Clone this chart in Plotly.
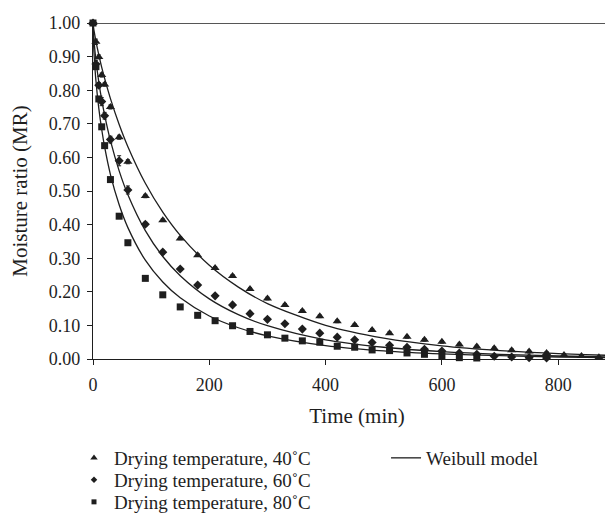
import plotly.graph_objects as go

t40 = [0, 5, 10, 15, 20, 30, 45, 60, 90, 120, 150, 180, 210, 240, 270, 300, 330, 360,
       390, 420, 450, 480, 510, 540, 570, 600, 630, 660, 690, 720, 750, 780, 810, 840, 870]
mr40 = [1.00, 0.944, 0.899, 0.845, 0.817, 0.750, 0.660, 0.587, 0.485, 0.413, 0.359, 0.309,
        0.271, 0.247, 0.208, 0.180, 0.161, 0.143, 0.127, 0.112, 0.101, 0.086, 0.077, 0.066,
        0.057, 0.051, 0.043, 0.037, 0.032, 0.026, 0.022, 0.018, 0.012, 0.009, 0.005]
err40 = [0, 0.008, 0.006, 0.006, 0.005, 0.006, 0.006, 0.006, 0.005, 0.004, 0.004, 0.004,
         0.004, 0.004, 0.004, 0.004, 0.004, 0.004, 0.004, 0.004, 0.004, 0.004, 0.004, 0.004,
         0.004, 0.004, 0.004, 0.004, 0.004, 0.004, 0.004, 0.004, 0.003, 0.003, 0.003]

t60 = [0, 5, 10, 15, 20, 30, 45, 60, 90, 120, 150, 180, 210, 240, 270, 300, 330, 360,
       390, 420, 450, 480, 510, 540, 570, 600, 630, 660, 690, 720, 750, 780]
mr60 = [1.00, 0.878, 0.815, 0.766, 0.724, 0.653, 0.590, 0.503, 0.401, 0.318, 0.268, 0.220,
        0.188, 0.161, 0.135, 0.118, 0.105, 0.089, 0.077, 0.065, 0.057, 0.049, 0.041, 0.035,
        0.029, 0.024, 0.018, 0.014, 0.008, 0.006, 0.004, 0.003]
err60 = [0, 0.010, 0.008, 0.012, 0.010, 0.010, 0.015, 0.012, 0.006, 0.006, 0.004, 0.004,
         0.004, 0.003, 0.003, 0.003, 0.003, 0.003, 0.003, 0.003, 0.003, 0.003, 0.003, 0.003,
         0.003, 0.003, 0.003, 0.003, 0.003, 0.003, 0.003, 0.003]

t80 = [0, 5, 10, 15, 20, 30, 45, 60, 90, 120, 150, 180, 210, 240, 270, 300, 330, 360,
       390, 420, 450, 480, 510, 540, 570, 600, 630, 660]
mr80 = [1.00, 0.870, 0.774, 0.691, 0.635, 0.534, 0.425, 0.346, 0.240, 0.191, 0.155, 0.130,
        0.114, 0.099, 0.082, 0.072, 0.062, 0.054, 0.050, 0.038, 0.035, 0.027, 0.025, 0.018,
        0.014, 0.010, 0.004, 0.003]

# Weibull model curves
tm = [0, 1, 2, 5, 10, 15, 20, 30, 45, 60, 90, 120, 150, 200, 250, 300, 400, 500, 600, 700, 800, 900, 950]
w40 = [1.0, 0.986, 0.975, 0.946, 0.905, 0.868, 0.835, 0.775, 0.698, 0.632, 0.523, 0.437,
       0.368, 0.279, 0.214, 0.165, 0.100, 0.062, 0.039, 0.025, 0.016, 0.010, 0.008]
w60 = [1.0, 0.965, 0.942, 0.890, 0.824, 0.771, 0.726, 0.650, 0.560, 0.489, 0.382, 0.305,
       0.248, 0.179, 0.132, 0.099, 0.057, 0.035, 0.022, 0.014, 0.009, 0.006, 0.005]
w80 = [1.0, 0.936, 0.902, 0.829, 0.746, 0.683, 0.631, 0.549, 0.459, 0.391, 0.294, 0.229,
       0.182, 0.128, 0.093, 0.069, 0.040, 0.024, 0.015, 0.010, 0.006, 0.004, 0.003]

x_ticks = [0, 200, 400, 600, 800]
y_ticks = [0.0, 0.1, 0.2, 0.3, 0.4, 0.5, 0.6, 0.7, 0.8, 0.9, 1.0]

INK = "#1e1e1e"
FONT = "Liberation Serif"

fig = go.Figure()

for w in (w40, w60, w80):
    fig.add_trace(go.Scatter(x=tm, y=w, mode="lines", line=dict(color=INK, width=1.3, shape="spline", smoothing=0.8),
                             showlegend=False, hoverinfo="skip"))

fig.add_trace(go.Scatter(x=[None], y=[None], mode="lines", line=dict(color=INK, width=1.3),
                         name="Weibull model", legend="legend4"))

series = [
    (t40, mr40, err40, "triangle-up", 8, 6.5, "Drying temperature, 40˚C", "legend"),
    (t60, mr60, err60, "diamond", 7, 5, "Drying temperature, 60˚C", "legend2"),
    (t80, mr80, None, "square", 7, 5, "Drying temperature, 80˚C", "legend3"),
]
for t, mr, er, sym, sz, lsz, nm, lg in series:
    kw = {}
    if er is not None:
        kw["error_y"] = dict(type="data", array=er, visible=True, color=INK, thickness=1, width=2)
    fig.add_trace(go.Scatter(x=t, y=mr, mode="markers", name=nm, showlegend=False,
                             marker=dict(symbol=sym, size=sz, color=INK), cliponaxis=False, **kw))
    # legend-only entry with the small key symbol used in the reference
    fig.add_trace(go.Scatter(x=[None], y=[None], mode="markers", name=nm, legend=lg,
                             marker=dict(symbol=sym, size=lsz, color=INK)))

# top border line at MR = 1.00
fig.add_shape(type="line", xref="paper", yref="y", x0=0, x1=1, y0=1.0, y1=1.0,
              line=dict(color=INK, width=1.3))

PLOT_TOP, PLOT_BOTTOM = 15, 351

def pr(py):
    return (PLOT_BOTTOM - py) / (PLOT_BOTTOM - PLOT_TOP)

legend_common = dict(font=dict(family=FONT, size=19, color=INK), bgcolor="rgba(0,0,0,0)",
                     xanchor="left", yanchor="middle", itemwidth=30)
fig.update_layout(
    width=613, height=521,
    margin=dict(l=85, r=0, t=PLOT_TOP, b=521 - PLOT_BOTTOM),
    plot_bgcolor="white", paper_bgcolor="white",
    font=dict(family=FONT, color=INK),
    showlegend=True,
    legend=dict(x=-0.036, y=pr(450), **legend_common),
    legend2=dict(x=-0.036, y=pr(472), **legend_common),
    legend3=dict(x=-0.036, y=pr(494), **legend_common),
    legend4=dict(x=0.555, y=pr(450), **legend_common),
    xaxis=dict(range=[0, 908], tickvals=x_ticks, ticks="outside", ticklen=5, tickwidth=1.2,
               tickcolor=INK, showline=True, linecolor=INK, linewidth=1.3, showgrid=False,
               zeroline=False, tickfont=dict(family=FONT, size=18, color=INK), ticklabelstandoff=4,
               title=dict(text="Time (min)", font=dict(family=FONT, size=21, color=INK), standoff=14)),
    yaxis=dict(range=[0, 1.0], tickvals=y_ticks, tickformat=".2f", ticks="outside", ticklen=5,
               tickwidth=1.2, tickcolor=INK, showline=True, linecolor=INK, linewidth=1.3,
               showgrid=False, zeroline=False, tickfont=dict(family=FONT, size=18, color=INK),
               ticklabelstandoff=3,
               title=dict(text="Moisture ratio (MR)", font=dict(family=FONT, size=21, color=INK), standoff=16)),
)

fig.write_html("out.html")
